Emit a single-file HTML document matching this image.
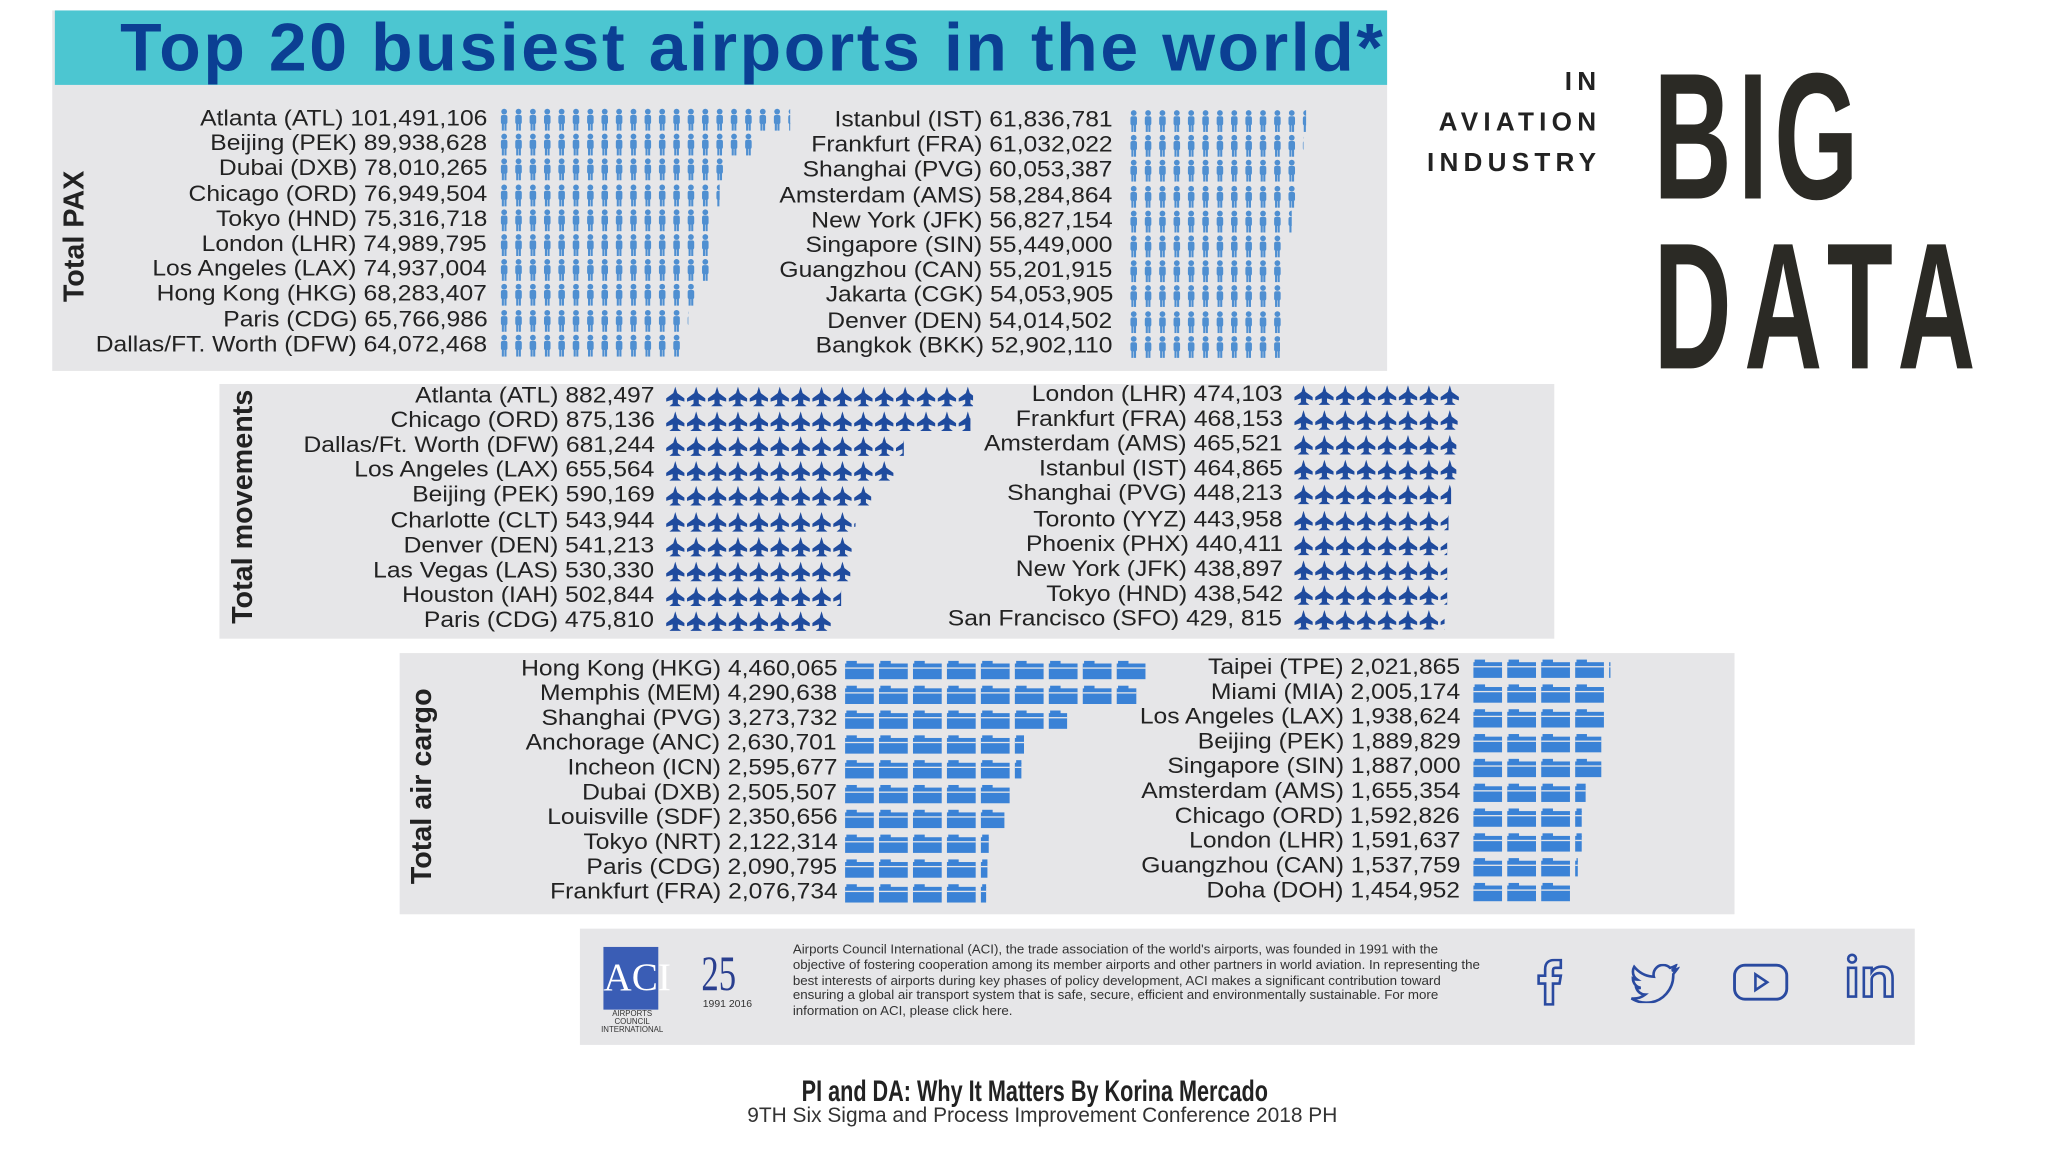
<!DOCTYPE html>
<html><head><meta charset="utf-8">
<style>
html,body{margin:0;padding:0;background:#fff;width:2048px;height:1152px;overflow:hidden}
#wrap{position:absolute;left:0;top:0;width:1568px;height:882px;transform:scale(1.30612);transform-origin:0 0;font-family:"Liberation Sans",sans-serif}
.panel{position:absolute;background:#e6e6e8}
.lbl{position:absolute;font-size:17px;color:#222;white-space:nowrap;text-align:right;line-height:19px;transform:scaleX(1.11);transform-origin:100% 50%}
.vt{position:absolute;font-weight:bold;font-size:22px;color:#222;white-space:nowrap;transform:translate(-50%,-50%) rotate(-90deg)}
svg.ic{position:absolute;overflow:hidden}
</style></head><body>
<div id="wrap">
  <div class="panel" style="left:40px;top:8px;width:1022px;height:276px"></div>
  <div style="position:absolute;left:42px;top:8px;width:1020px;height:57px;background:#4cc6d1"></div>
  <div style="position:absolute;left:92px;top:8px;font-weight:bold;font-size:52px;letter-spacing:2px;color:#0b3f93;white-space:nowrap;line-height:58px">Top 20 busiest airports in the world*</div>
  <div class="panel" style="left:168px;top:294px;width:1022px;height:195px"></div>
  <div class="panel" style="left:306px;top:500px;width:1022px;height:200px"></div>
  <div class="vt" style="left:57px;top:181px">Total PAX</div>
  <div class="vt" style="left:186px;top:388px">Total movements</div>
  <div class="vt" style="left:323px;top:602px">Total air cargo</div>

  <div style="position:absolute;right:342px;top:52px;font-weight:bold;font-size:20px;letter-spacing:4px;color:#222">IN</div>
  <div style="position:absolute;right:342px;top:83px;font-weight:bold;font-size:20px;letter-spacing:4px;color:#222">AVIATION</div>
  <div style="position:absolute;right:342px;top:114px;font-weight:bold;font-size:20px;letter-spacing:4px;color:#222">INDUSTRY</div>
  <div style="position:absolute;left:1266px;top:36px;font-weight:bold;font-size:138px;line-height:138px;color:#2b2a25;transform:scaleX(0.6);transform-origin:0 0;letter-spacing:8px">BIG</div>
  <div style="position:absolute;left:1266px;top:166px;font-weight:bold;font-size:138px;line-height:138px;color:#2b2a25;transform:scaleX(0.6);transform-origin:0 0;letter-spacing:16px">DATA</div>

  <div class="panel" style="left:444px;top:711px;width:1022px;height:89px"></div>
  <div style="position:absolute;left:462px;top:725px;width:42px;height:48px;background:#3a5db5;color:#fff;font-family:'Liberation Serif',serif;font-size:30px;text-align:center;line-height:48px">ACI</div>
  <div style="position:absolute;left:456px;top:774px;font-size:6px;color:#333;width:56px;text-align:center">AIRPORTS COUNCIL INTERNATIONAL</div>
  <div style="position:absolute;left:537px;top:724px;font-family:'Liberation Serif',serif;font-size:38px;color:#2a3f8f;transform:scaleX(0.7);transform-origin:0 0">25</div>
  <div style="position:absolute;left:538px;top:764px;font-size:8px;color:#333">1991 2016</div>
  <div style="position:absolute;left:607px;top:722px;width:535px;font-size:10.2px;line-height:11.8px;color:#333">Airports Council International (ACI), the trade association of the world's airports, was founded in 1991 with the objective of fostering cooperation among its member airports and other partners in world aviation. In representing the best interests of airports during key phases of policy development, ACI makes a significant contribution toward ensuring a global air transport system that is safe, secure, efficient and environmentally sustainable. For more information on ACI, please click here.</div>
  <svg style="position:absolute;left:1174px;top:734px" width="26" height="36" viewBox="0 0 26 36"><path d="M9 35V19H4v-6h5V8c0-5 3-7 7-7h5v6h-4c-1.5 0-2 .7-2 2v4h6l-1 6h-5v16z" fill="none" stroke="#2a4aa0" stroke-width="2"/></svg>
  <svg style="position:absolute;left:1248px;top:738px" width="38" height="30" viewBox="0 0 38 30"><path d="M36 4c-1.3.6-2.7 1-4 1.1 1.4-.9 2.5-2.2 3-3.8-1.4.8-2.8 1.4-4.4 1.7C29.2 1.6 27.3.8 25.3.8c-4 0-7.3 3.3-7.3 7.3 0 .6 0 1.1.2 1.7C12.1 9.5 6.8 6.6 3.2 2.2c-.6 1.1-1 2.3-1 3.7 0 2.5 1.3 4.8 3.3 6.1-1.2 0-2.3-.4-3.3-.9 0 3.6 2.5 6.5 5.9 7.2-1.1.3-2.2.3-3.3.1 1 2.9 3.6 5 6.8 5.1-3 2.3-6.8 3.3-10.5 2.9 3.3 2.1 7.1 3.3 11.2 3.3 13.4 0 20.8-11.1 20.8-20.8v-1C33.9 6.5 35.1 5.3 36 4z" fill="none" stroke="#2a4aa0" stroke-width="2"/></svg>
  <svg style="position:absolute;left:1326px;top:737px" width="44" height="30" viewBox="0 0 44 30"><rect x="2" y="2" width="40" height="26" rx="8" fill="none" stroke="#2a4aa0" stroke-width="2.2"/><path d="M18 9l9 6-9 6z" fill="none" stroke="#2a4aa0" stroke-width="2"/></svg>
  <svg style="position:absolute;left:1413px;top:729px" width="44" height="36" viewBox="0 0 44 36"><circle cx="5" cy="5" r="3" fill="none" stroke="#2a4aa0" stroke-width="2"/><rect x="2" y="12" width="6" height="22" fill="none" stroke="#2a4aa0" stroke-width="2"/><path d="M14 12h6v3c2-3 5-4 8-4 5 0 8 3 8 9v14h-6V21c0-3-1-5-4-5s-6 2-6 5v13h-6z" fill="none" stroke="#2a4aa0" stroke-width="2"/></svg>

  <div style="position:absolute;left:0;width:1584px;text-align:center;top:822px;font-weight:bold;font-size:23px;color:#222;transform:scaleX(0.72);transform-origin:793px 0;white-space:nowrap">PI and DA: Why It Matters By Korina Mercado</div>
  <div style="position:absolute;left:0;width:1596px;text-align:center;top:846px;font-size:16px;color:#333;white-space:nowrap">9TH Six Sigma and Process Improvement Conference 2018 PH</div>
</div>
<script>
// PAX data
const paxLeftNames = ["Atlanta (ATL)","Beijing (PEK)","Dubai (DXB)","Chicago (ORD)","Tokyo (HND)","London (LHR)","Los Angeles (LAX)","Hong Kong (HKG)","Paris (CDG)","Dallas/FT. Worth (DFW)"];
const paxLeftValues = [101491106,89938628,78010265,76949504,75316718,74989795,74937004,68283407,65766986,64072468];
const paxRightNames = ["Istanbul (IST)","Frankfurt (FRA)","Shanghai (PVG)","Amsterdam (AMS)","New York (JFK)","Singapore (SIN)","Guangzhou (CAN)","Jakarta (CGK)","Denver (DEN)","Bangkok (BKK)"];
const paxRightValues = [61836781,61032022,60053387,58284864,56827154,55449000,55201915,54053905,54014502,52902110];
// Movements data
const movLeftNames = ["Atlanta (ATL)","Chicago (ORD)","Dallas/Ft. Worth (DFW)","Los Angeles (LAX)","Beijing (PEK)","Charlotte (CLT)","Denver (DEN)","Las Vegas (LAS)","Houston (IAH)","Paris (CDG)"];
const movLeftValues = [882497,875136,681244,655564,590169,543944,541213,530330,502844,475810];
const movRightNames = ["London (LHR)","Frankfurt (FRA)","Amsterdam (AMS)","Istanbul (IST)","Shanghai (PVG)","Toronto (YYZ)","Phoenix (PHX)","New York (JFK)","Tokyo (HND)","San Francisco (SFO)"];
const movRightValues = [474103,468153,465521,464865,448213,443958,440411,438897,438542,429815];
const movRightPrinted = ["474,103","468,153","465,521","464,865","448,213","443,958","440,411","438,897","438,542","429, 815"];
// Cargo data
const cargoLeftNames = ["Hong Kong (HKG)","Memphis (MEM)","Shanghai (PVG)","Anchorage (ANC)","Incheon (ICN)","Dubai (DXB)","Louisville (SDF)","Tokyo (NRT)","Paris (CDG)","Frankfurt (FRA)"];
const cargoLeftValues = [4460065,4290638,3273732,2630701,2595677,2505507,2350656,2122314,2090795,2076734];
const cargoRightNames = ["Taipei (TPE)","Miami (MIA)","Los Angeles (LAX)","Beijing (PEK)","Singapore (SIN)","Amsterdam (AMS)","Chicago (ORD)","London (LHR)","Guangzhou (CAN)","Doha (DOH)"];
const cargoRightValues = [2021865,2005174,1938624,1889829,1887000,1655354,1592826,1591637,1537759,1454952];

const wrap = document.getElementById('wrap');
const NS = 'http://www.w3.org/2000/svg';
const fmt = v => v.toLocaleString('en-US');

function iconShape(kind, x, color){
  const g = document.createElementNS(NS,'g');
  if(kind==='pax'){
    g.innerHTML = `<circle cx="${x+4}" cy="2.5" r="2.2" fill="${color}"/><rect x="${x+1.5}" y="5" width="5" height="7" rx="1.5" fill="${color}"/><rect x="${x+2.2}" y="11" width="1.6" height="6" fill="${color}"/><rect x="${x+4.2}" y="11" width="1.6" height="6" fill="${color}"/>`;
  } else if(kind==='mov'){
    g.innerHTML = `<path d="M${x+7} 1 L${x+8.5} 6 L${x+14} 10 L${x+14} 12.5 L${x+9} 11 L${x+9} 14 L${x+11.5} 16 L${x+2.5} 16 L${x+5} 14 L${x+5} 11 L${x} 12.5 L${x} 10 L${x+5.5} 6 Z" fill="${color}"/>`;
  } else {
    g.innerHTML = `<rect x="${x}" y="4" width="22" height="12" fill="${color}"/><rect x="${x+1}" y="2" width="8" height="3" fill="${color}"/><rect x="${x}" y="7" width="22" height="1" fill="#e6e6e8"/>`;
  }
  return g;
}

function column(names, values, printed, labelRight, iconLeft, top, step, unit, iconW, kind, color, prefix){
  names.forEach((n,i)=>{
    const y = top + i*step;
    const lb = document.createElement('div');
    lb.className='lbl';
    
    
    lb.style.right = (1568-labelRight)+'px';
    lb.style.top = (y-10)+'px';
    lb.textContent = n+' '+(printed ? printed[i] : fmt(values[i]));
    wrap.appendChild(lb);
    const w = values[i]/unit*iconW;
    const s = document.createElementNS(NS,'svg');
    s.setAttribute('class','ic');
    
    
    s.setAttribute('width', w);
    s.setAttribute('height', 18);
    s.style.left = iconLeft+'px';
    s.style.top = (y-8)+'px';
    const n2 = Math.ceil(values[i]/unit);
    for(let k=0;k<n2;k++) s.appendChild(iconShape(kind, k*iconW, color));
    wrap.appendChild(s);
  });
}
column(paxLeftNames, paxLeftValues, null, 373, 382, 91, 19.2, 5000000, 11, 'pax', '#4f8fd1', 'pax-left');
column(paxRightNames, paxRightValues, null, 852, 864, 92, 19.2, 5000000, 11, 'pax', '#4f8fd1', 'pax-right');
column(movLeftNames, movLeftValues, null, 501, 510, 303, 19.1, 60000, 16, 'mov', '#1f4b9e', 'mov-left');
column(movRightNames, movRightValues, movRightPrinted, 982, 991, 302, 19.1, 60000, 16, 'mov', '#1f4b9e', 'mov-right');
column(cargoLeftNames, cargoLeftValues, null, 641, 647, 512, 19.0, 500000, 26, 'cargo', '#3a82d6', 'cargo-left');
column(cargoRightNames, cargoRightValues, null, 1118, 1128, 511, 19.0, 500000, 26, 'cargo', '#3a82d6', 'cargo-right');
</script>
</body></html>
